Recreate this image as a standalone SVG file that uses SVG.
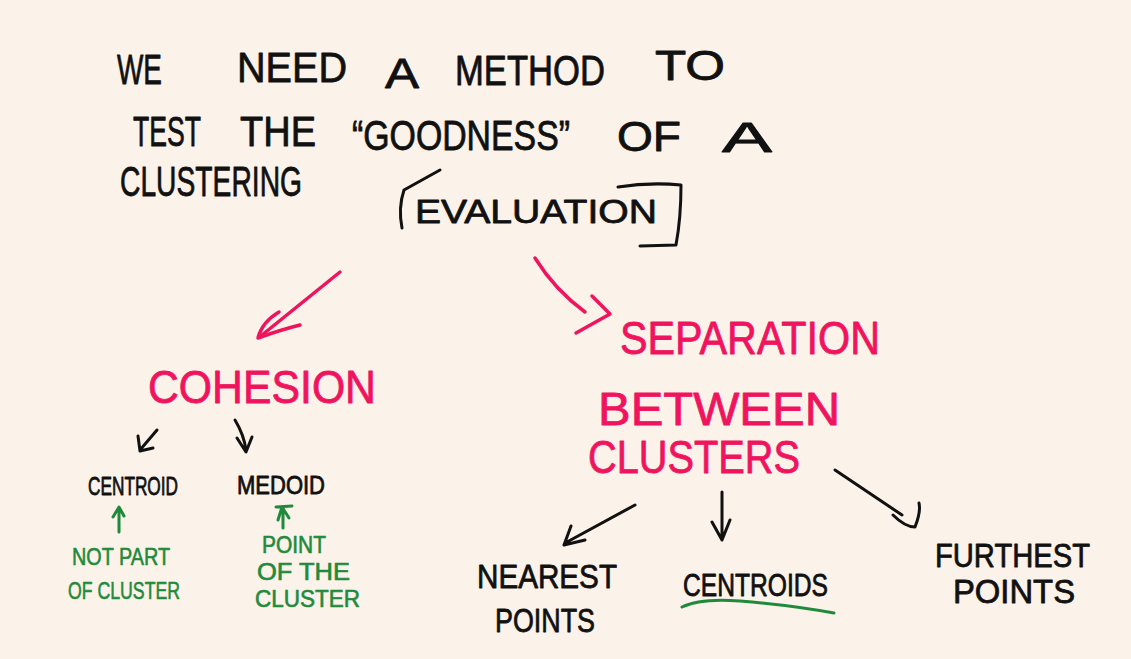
<svg xmlns="http://www.w3.org/2000/svg" width="1131" height="659" viewBox="0 0 1131 659">
<style>
.t{font-family:"Liberation Sans","DejaVu Sans",sans-serif;stroke-linejoin:round}
.k{fill:#111;stroke:#111;stroke-width:0.8}
.p{fill:#f0145f;stroke:#f0145f;stroke-width:0.8}
.g{fill:#1f8a3c;stroke:#1f8a3c;stroke-width:0.6}
.lk{fill:none;stroke:#111;stroke-width:3;stroke-linecap:round;stroke-linejoin:round}
.lp{fill:none;stroke:#f0145f;stroke-width:3.5;stroke-linecap:round;stroke-linejoin:round}
.lg{fill:none;stroke:#1f8a3c;stroke-width:3;stroke-linecap:round;stroke-linejoin:round}
</style>
<rect width="1131" height="659" fill="#fbf2e9"/>
<g id="title">
<text class="t k" font-size="42" x="117" y="84" textLength="45" lengthAdjust="spacingAndGlyphs">WE</text>
<text class="t k" font-size="42" x="237" y="82" textLength="110" lengthAdjust="spacingAndGlyphs">NEED</text>
<text class="t k" font-size="42" x="385" y="88" textLength="34" lengthAdjust="spacingAndGlyphs">A</text>
<text class="t k" font-size="42" x="455" y="85" textLength="150" lengthAdjust="spacingAndGlyphs">METHOD</text>
<text class="t k" font-size="42" x="655" y="80" textLength="70" lengthAdjust="spacingAndGlyphs">TO</text>
<text class="t k" font-size="42" x="133" y="146" textLength="68" lengthAdjust="spacingAndGlyphs">TEST</text>
<text class="t k" font-size="42" x="240" y="146" textLength="76" lengthAdjust="spacingAndGlyphs">THE</text>
<text class="t k" font-size="42" x="352" y="150" textLength="218" lengthAdjust="spacingAndGlyphs">“GOODNESS”</text>
<text class="t k" font-size="42" x="617" y="151" textLength="64" lengthAdjust="spacingAndGlyphs">OF</text>
<text class="t k" font-size="42" x="722" y="152" textLength="50" lengthAdjust="spacingAndGlyphs">A</text>
<text class="t k" font-size="42" x="120" y="196" textLength="182" lengthAdjust="spacingAndGlyphs">CLUSTERING</text>
<text class="t k" font-size="34" x="415" y="223" textLength="242" lengthAdjust="spacingAndGlyphs">EVALUATION</text>
<path class="lk" d="M440 170 L404 190 Q398 208 402 228"/>
<path class="lk" d="M618 187 Q650 182 681 185 Q681 218 676 245 L640 246"/>
</g>
<g id="connectors">
<path class="lp" d="M340 272 L262 335"/>
<path class="lp" d="M279 312 Q262 322 258 338 Q280 330 300 325"/>
<path class="lp" d="M535 258 Q555 290 585 312"/>
<path class="lp" d="M592 296 L610 314 L576 333"/>
<path class="lk" d="M157 430 L140 450 M138 436 L140 451 L153 448"/>
<path class="lk" d="M235 420 Q244 435 246 450 M237 438 L246 452 L252 437"/>
<path class="lg" d="M119 532 L119 508 M113 517 L119 507 L124 516"/>
<path class="lg" d="M283 528 L283 508 M276 507 L292 506 M278 520 L282 507 L289 518"/>
<path class="lk" d="M635 505 L567 542 M571 526 L564 545 L585 540"/>
<path class="lk" d="M722 492 L722 540 M712 522 L722 540 L730 520"/>
<path class="lk" d="M835 470 L902 515 M893 515 Q905 527 915 527 Q921 512 919 503"/>
<path class="lg" d="M682 607 Q700 598 740 601 Q790 605 834 613"/>
</g>
<g id="cohesion">
<text class="t p" font-size="46" x="148" y="403" textLength="228" lengthAdjust="spacingAndGlyphs">COHESION</text>
</g>
<g id="separation">
<text class="t p" font-size="46" x="620" y="354" textLength="260" lengthAdjust="spacingAndGlyphs">SEPARATION</text>
<text class="t p" font-size="46" x="598" y="425" textLength="242" lengthAdjust="spacingAndGlyphs">BETWEEN</text>
<text class="t p" font-size="46" x="588" y="473" textLength="212" lengthAdjust="spacingAndGlyphs">CLUSTERS</text>
</g>
<g id="centroid">
<text class="t k" font-size="26" x="88" y="495" textLength="90" lengthAdjust="spacingAndGlyphs">CENTROID</text>
</g>
<g id="medoid">
<text class="t k" font-size="26" x="237" y="494" textLength="88" lengthAdjust="spacingAndGlyphs">MEDOID</text>
</g>
<g id="not-part">
<text class="t g" font-size="24" x="72" y="565" textLength="98" lengthAdjust="spacingAndGlyphs">NOT PART</text>
<text class="t g" font-size="24" x="68" y="599" textLength="112" lengthAdjust="spacingAndGlyphs">OF CLUSTER</text>
</g>
<g id="point-of">
<text class="t g" font-size="23" x="262" y="553" textLength="64" lengthAdjust="spacingAndGlyphs">POINT</text>
<text class="t g" font-size="23" x="257" y="580" textLength="93" lengthAdjust="spacingAndGlyphs">OF THE</text>
<text class="t g" font-size="23" x="255" y="607" textLength="105" lengthAdjust="spacingAndGlyphs">CLUSTER</text>
</g>
<g id="nearest">
<text class="t k" font-size="34" x="477" y="588" textLength="140" lengthAdjust="spacingAndGlyphs">NEAREST</text>
<text class="t k" font-size="34" x="495" y="632" textLength="100" lengthAdjust="spacingAndGlyphs">POINTS</text>
</g>
<g id="centroids">
<text class="t k" font-size="31" x="683" y="596" textLength="145" lengthAdjust="spacingAndGlyphs">CENTROIDS</text>
</g>
<g id="furthest">
<text class="t k" font-size="34" x="935" y="567" textLength="155" lengthAdjust="spacingAndGlyphs">FURTHEST</text>
<text class="t k" font-size="34" x="953" y="603" textLength="122" lengthAdjust="spacingAndGlyphs">POINTS</text>
</g>
</svg>
